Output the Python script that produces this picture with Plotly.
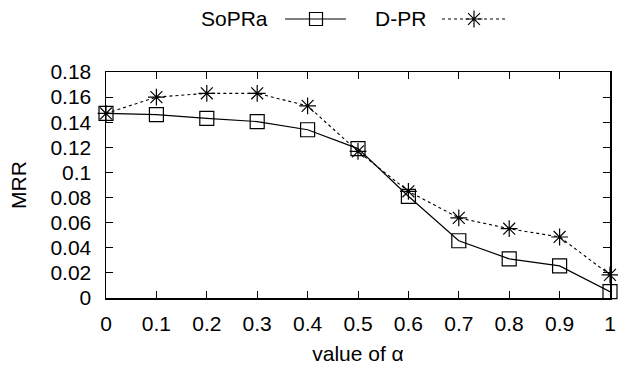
import plotly.graph_objects as go

alpha = [0, 0.1, 0.2, 0.3, 0.4, 0.5, 0.6, 0.7, 0.8, 0.9, 1.0]
sopra = [0.147, 0.146, 0.143, 0.1405, 0.134, 0.119, 0.081, 0.0456, 0.0312, 0.0256, 0.005]
dpr = [0.147, 0.160, 0.163, 0.163, 0.153, 0.1168, 0.085, 0.0638, 0.0552, 0.0486, 0.0184]
y_ticks = [0, 0.02, 0.04, 0.06, 0.08, 0.1, 0.12, 0.14, 0.16, 0.18]
y_labels = ["0", "0.02", "0.04", "0.06", "0.08", "0.1", "0.12", "0.14", "0.16", "0.18"]
x_ticks = [0, 0.1, 0.2, 0.3, 0.4, 0.5, 0.6, 0.7, 0.8, 0.9, 1.0]
x_labels = ["0", "0.1", "0.2", "0.3", "0.4", "0.5", "0.6", "0.7", "0.8", "0.9", "1"]
legend_names = ["SoPRa", "D-PR"]

W, H = 618, 367
L, R, B = 106, 8, 69
PLOT_TOP = 72          # top edge of the data frame, px from top of figure
AREA_H = H - B         # full drawable height (top margin 0)
FONT = "Liberation Sans, Arial, Helvetica, sans-serif"
FS = 21

def px2paper_x(px):
    return (px - L) / (W - L - R)

def px2paper_y(py):
    return (AREA_H - py) / AREA_H

fig = go.Figure()

# manual gnuplot-style legend (text then sample) on a transparent helper subplot
leg_y = 19
fig.add_trace(go.Scatter(
    x=[px2paper_x(316)], y=[px2paper_y(leg_y)], xaxis="x2", yaxis="y2", mode="markers",
    marker=dict(symbol="square-open", size=13, color="black", line=dict(width=1.2)),
    cliponaxis=False, showlegend=False, hoverinfo="skip"))
fig.add_trace(go.Scatter(
    x=[px2paper_x(474)], y=[px2paper_y(leg_y)], xaxis="x2", yaxis="y2", mode="markers",
    marker=dict(symbol="asterisk-open", size=14, color="black", line=dict(width=1.2, color="black")),
    cliponaxis=False, showlegend=False, hoverinfo="skip"))

fig.add_trace(go.Scatter(
    x=alpha, y=sopra, mode="lines+markers", name=legend_names[0],
    line=dict(color="black", width=1.2),
    marker=dict(symbol="square-open", size=14, color="black", line=dict(width=1.2)),
    cliponaxis=False, showlegend=False))
fig.add_trace(go.Scatter(
    x=alpha, y=dpr, mode="lines+markers", name=legend_names[1],
    line=dict(color="black", width=1.1, dash="3px,3px"),
    marker=dict(symbol="asterisk-open", size=14, color="black", line=dict(width=1.2, color="black")),
    cliponaxis=False, showlegend=False))

fig.add_shape(type="line", xref="paper", yref="paper",
              x0=px2paper_x(285), x1=px2paper_x(346), y0=px2paper_y(leg_y), y1=px2paper_y(leg_y),
              line=dict(color="black", width=1.2))
fig.add_shape(type="line", xref="paper", yref="paper",
              x0=px2paper_x(442), x1=px2paper_x(505), y0=px2paper_y(leg_y), y1=px2paper_y(leg_y),
              line=dict(color="black", width=1.1, dash="3px,3px"))
fig.add_annotation(text=legend_names[0], xref="paper", yref="paper", x=px2paper_x(270), y=px2paper_y(leg_y),
                   xanchor="right", yanchor="middle", showarrow=False,
                   font=dict(family=FONT, size=FS, color="black"))
fig.add_annotation(text=legend_names[1], xref="paper", yref="paper", x=px2paper_x(428), y=px2paper_y(leg_y),
                   xanchor="right", yanchor="middle", showarrow=False,
                   font=dict(family=FONT, size=FS, color="black"))

axis_common = dict(showline=True, linecolor="black", linewidth=1.5, mirror="ticks",
                   ticks="inside", ticklen=7, tickwidth=1, tickcolor="black",
                   showgrid=False, zeroline=False, ticklabeloverflow="allow",
                   automargin=False,
                   tickfont=dict(family=FONT, size=FS, color="black"))

fig.update_layout(
    template="none",
    width=W, height=H,
    margin=dict(l=L, r=R, t=0, b=B, pad=0),
    paper_bgcolor="white", plot_bgcolor="rgba(0,0,0,0)",
    font=dict(family=FONT, size=FS, color="black"),
    hovermode=False,
    xaxis=dict(range=[0, 1], tickvals=x_ticks, ticktext=x_labels, ticklabelstandoff=6,
               title=dict(text="value of α", font=dict(family=FONT, size=FS), standoff=12),
               **axis_common),
    yaxis=dict(range=[0, 0.18], domain=[0, (AREA_H - PLOT_TOP) / AREA_H],
               tickvals=y_ticks, ticktext=y_labels, ticklabelstandoff=9,
               title=dict(text="MRR", font=dict(family=FONT, size=FS), standoff=18),
               **axis_common),
    xaxis2=dict(range=[0, 1], domain=[0, 1], anchor="y2", visible=False, fixedrange=True,
                automargin=False),
    yaxis2=dict(range=[0, 1], domain=[0, 1], anchor="x2", visible=False, fixedrange=True,
                automargin=False),
)

fig.write_html("out.html", config={"displayModeBar": False, "staticPlot": True},
               post_script="document.body.style.margin='0';document.body.style.padding='0';")
